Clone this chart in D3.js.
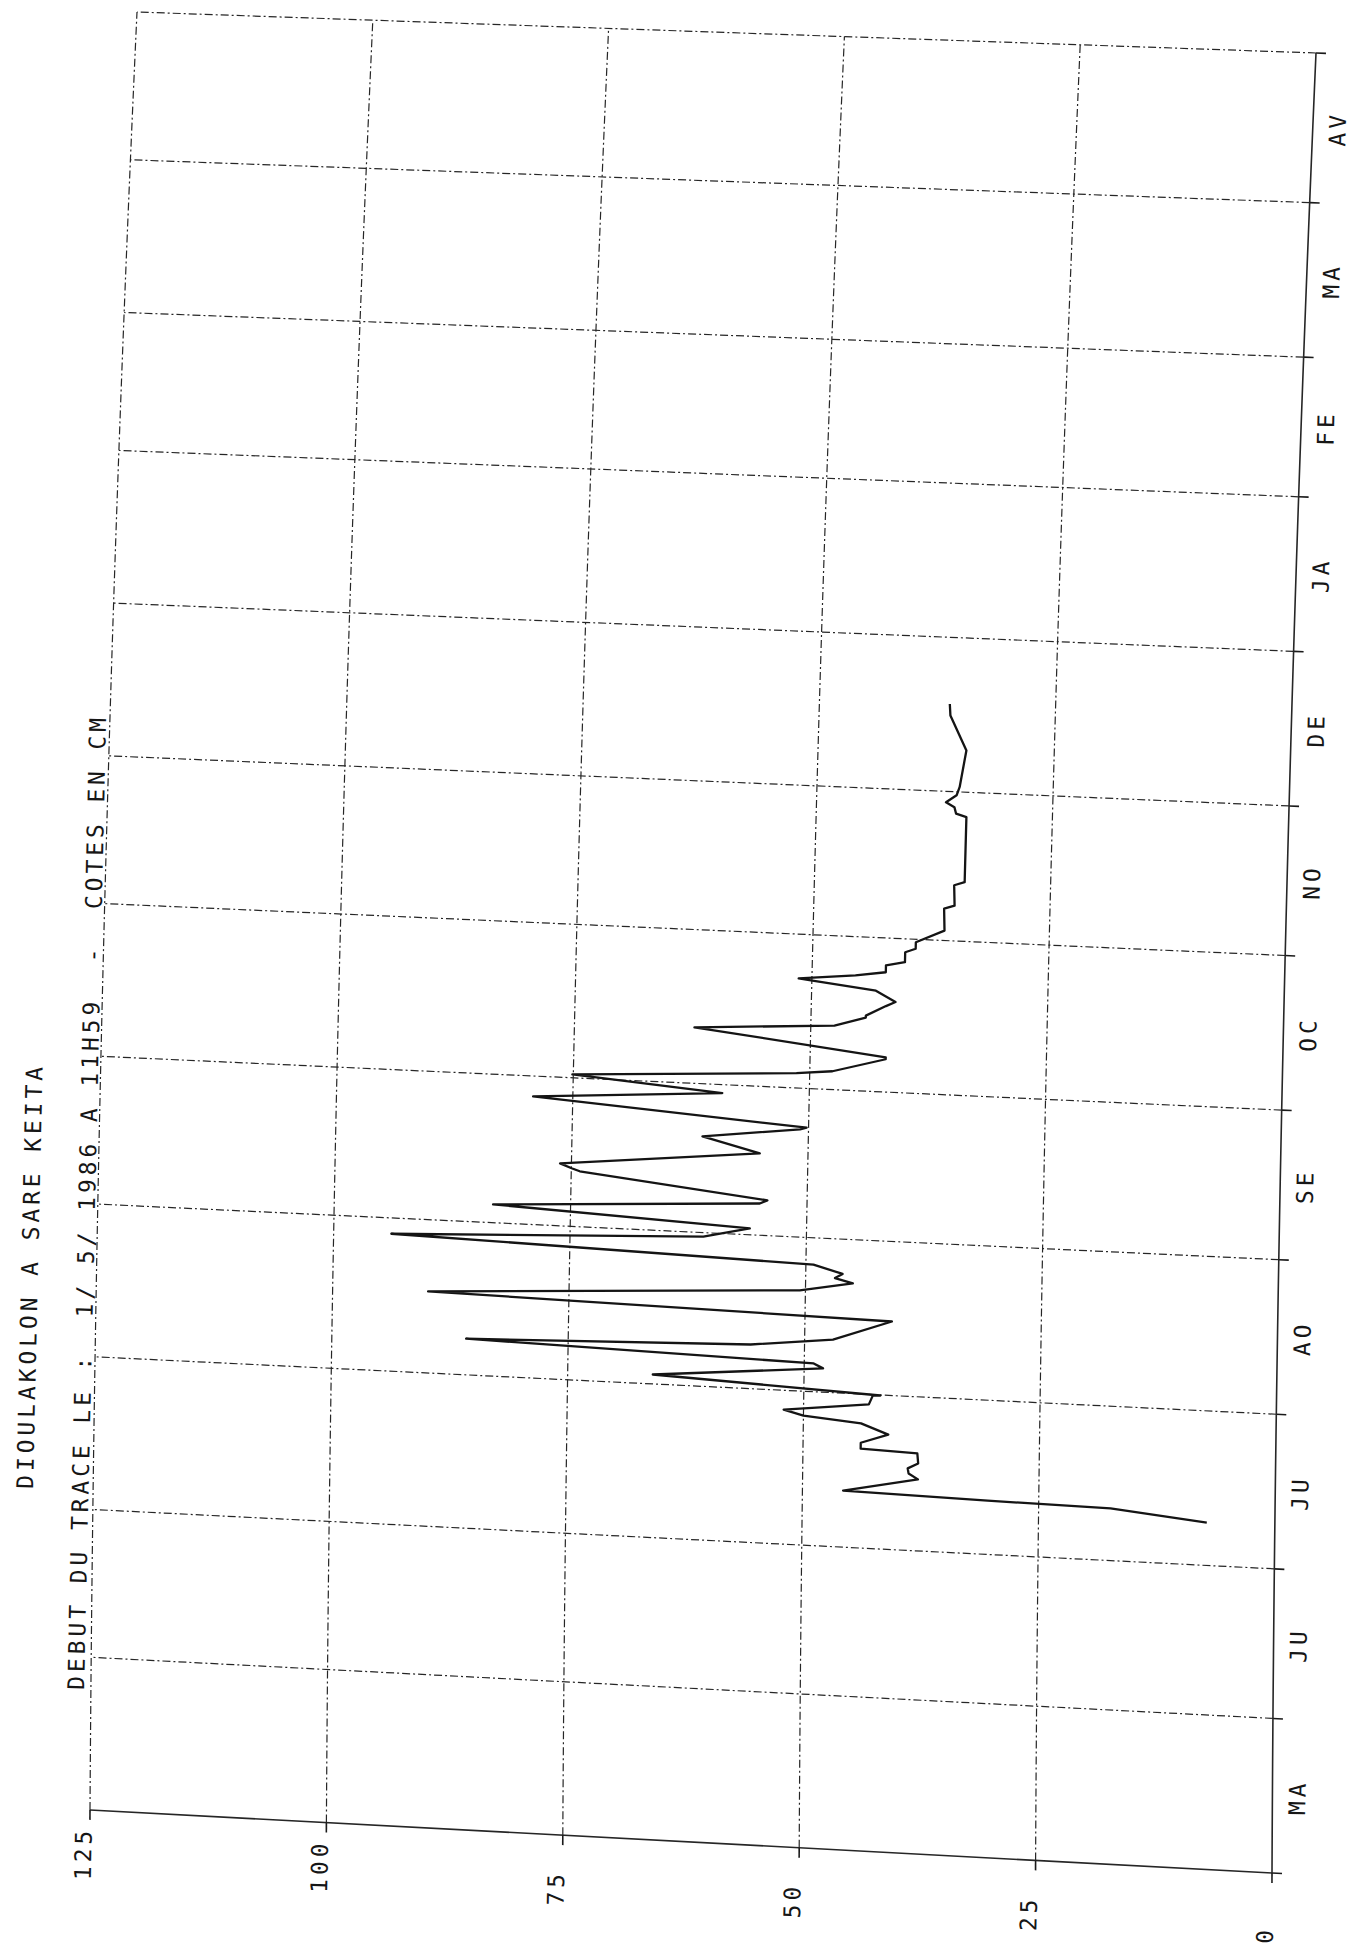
<!DOCTYPE html>
<html lang="fr">

<script src="https://d3js.org/d3.v7.min.js"></script>

<head>
    <meta charset="UTF-8">
    <title>Dioulakolon a Sare Keita</title>

    <style>
        body {
            margin: 0;
            background: #ffffff;
        }

        svg {
            display: block;
        }

        .etiquette {
            font-family: "DejaVu Sans Mono", monospace;
            font-size: 23px;
            letter-spacing: 3.9px;
            fill: #161616;
        }
    </style>
</head>
<body>

    <svg id="chart" width="1361" height="1955"></svg>

    <script>
        // title lines
        const titre1 = "DIOULAKOLON A SARE KEITA";
        const titre2 = "DEBUT DU TRACE LE :  1/ 5/ 1986 A 11H59  -  COTES EN CM";

        // month initials, May 1986 to April 1987
        const mois = ["MA", "JU", "JU", "AO", "SE", "OC", "NO", "DE", "JA", "FE", "MA", "AV"];

        // level ticks (cm)
        const cotesTicks = [0, 25, 50, 75, 100, 125];

        // days since 1 May 1986 and levels (cm)
        const jours = [69.6, 71.5, 71.8, 72.4, 75.4, 76.5, 77.5, 78.6, 80.6, 81.0,
            82.2, 84.1, 86.1, 87.1, 88.1, 90.0, 91.8, 91.9, 93.9, 96.8,
            97.7, 99.3, 100.9, 102.7, 106.9, 108.5, 112.3, 114.2, 115.1, 116.0,
            117.6, 119.8, 122.2, 124.3, 126.7, 129.4, 130.1, 134.2, 134.7, 135.6,
            139.5, 142.4, 144.7, 145.1, 148.9, 151.3, 153.7, 156.0, 156.7, 159.6,
            160.0, 164.3, 165.9, 167.8, 168.2, 170.3, 171.2, 173.3, 174.8, 175.1,
            176.2, 177.1, 178.5, 179.3, 181.3, 182.1, 183.4, 186.0, 190.4, 191.1,
            195.2, 195.9, 198.3, 209.0, 209.6, 210.9, 211.8, 213.3, 215.0, 222.4,
            229.3, 231.6];
        const cotes = [7.2, 17.4, 30.4, 45.7, 37.8, 38.8, 38.9, 37.8, 37.9, 43.9,
            43.9, 41.0, 43.9, 50.0, 52.1, 43.1, 42.7, 41.9, 66.0, 48.0,
            49.0, 85.8, 55.7, 47.0, 40.8, 89.9, 50.6, 45.0, 46.9, 46.1,
            49.2, 93.9, 60.9, 56.0, 83.2, 55.0, 54.2, 74.1, 74.9, 76.2,
            55.1, 61.2, 50.9, 50.2, 79.2, 59.2, 75.1, 51.4, 47.6, 42.0,
            42.0, 62.3, 47.5, 44.2, 44.2, 42.1, 41.1, 43.2, 50.1, 51.4,
            45.4, 42.2, 42.2, 40.2, 40.2, 39.1, 39.1, 36.1, 36.2, 35.1,
            35.2, 34.1, 34.1, 34.1, 35.2, 35.4, 36.3, 35.2, 34.9, 34.3,
            36.1, 36.2];

        const svgElement = d3.select("#chart");

        // scales: time along the sheet height, level across it (0..1 each)
        const debut = new Date(1986, 4, 1);
        const fin = new Date(1987, 4, 1);
        const echelleTemps = d3.scaleTime().domain([debut, fin]).range([0, 1]);
        const echelleCote = d3.scaleLinear().domain([0, 125]).range([0, 1]);

        // the plot is rotated on the page and the scanned sheet is a bit warped:
        // corners of the frame (t,c) = (0,0) (1,0) (0,1) (1,1) and a slight bow
        const coin00 = [1272, 1873];
        const coin10 = [1316, 53];
        const coin01 = [90, 1810];
        const coin11 = [137, 12];
        const courbure = 36;
        const inclinaison = -88.7;

        function feuille(t, c) {
            const a = (1 - t) * (1 - c), b = t * (1 - c), d = (1 - t) * c, e = t * c;
            const x = a * coin00[0] + b * coin10[0] + d * coin01[0] + e * coin11[0] - courbure * t * (1 - t);
            const y = a * coin00[1] + b * coin10[1] + d * coin01[1] + e * coin11[1];
            return [x, y];
        }

        const trait = d3.line();
        const tickT = 10 / 1820;
        const tickC = 10 / 1182;

        // month grid lines (month starts)
        const debutsMois = d3.timeMonth.range(debut, d3.timeDay.offset(fin, 1));
        debutsMois.forEach((d, i) => {
            const t = echelleTemps(d);
            svgElement.append("path")
                .attr("d", trait([feuille(t, 0), feuille(t, 1)]))
                .attr("fill", "none")
                .attr("stroke", "#262626")
                .attr("stroke-width", i == 0 ? 1.6 : 1.2)
                .attr("stroke-dasharray", i == 0 ? null : "8,3,2,3");
            // tick outside the time axis
            svgElement.append("path")
                .attr("d", trait([feuille(t, -tickC), feuille(t, 0)]))
                .attr("stroke", "#1a1a1a")
                .attr("stroke-width", 1.6);
        });

        // level grid lines
        const pasT = d3.range(0, 1.0001, 0.02);
        cotesTicks.forEach((c) => {
            const cc = echelleCote(c);
            svgElement.append("path")
                .attr("d", trait(pasT.map(t => feuille(t, cc))))
                .attr("fill", "none")
                .attr("stroke", "#262626")
                .attr("stroke-width", c == 0 ? 1.6 : 1.2)
                .attr("stroke-dasharray", c == 0 ? null : "8,3,2,3");
            // tick below the level axis
            svgElement.append("path")
                .attr("d", trait([feuille(-tickT, cc), feuille(0, cc)]))
                .attr("stroke", "#1a1a1a")
                .attr("stroke-width", 1.6);

            // level label, starting a fixed distance below the axis
            const p = feuille(-71 / 1820, cc);
            svgElement.append("text")
                .attr("class", "etiquette")
                .attr("transform", "translate(" + (p[0] + 1) + "," + p[1] + ") rotate(" + inclinaison + ")")
                .text(c);
        });

        // month labels, centred on each month
        mois.forEach((m, i) => {
            const milieu = new Date((+debutsMois[i] + +debutsMois[i + 1]) / 2);
            const p = feuille(echelleTemps(milieu), -33 / 1182);
            svgElement.append("text")
                .attr("class", "etiquette")
                .attr("text-anchor", "middle")
                .attr("transform", "translate(" + p[0] + "," + p[1] + ") rotate(" + inclinaison + ")")
                .text(m);
        });

        // water level trace
        const dates = jours.map(j => d3.timeMinute.offset(debut, Math.round(j * 1440)));
        const points = dates.map((d, i) => feuille(echelleTemps(d), echelleCote(cotes[i])));
        svgElement.append("path")
            .attr("d", trait(points))
            .attr("fill", "none")
            .attr("stroke", "#141414")
            .attr("stroke-width", 2.3)
            .attr("stroke-linejoin", "round");

        // titles along the left side
        svgElement.append("text")
            .attr("class", "etiquette")
            .attr("transform", "translate(33,1489) rotate(" + inclinaison + ")")
            .text(titre1);
        svgElement.append("text")
            .attr("class", "etiquette")
            .style("white-space", "pre")
            .attr("transform", "translate(84,1690) rotate(" + inclinaison + ")")
            .text(titre2);
    </script>
</body>
</html>
